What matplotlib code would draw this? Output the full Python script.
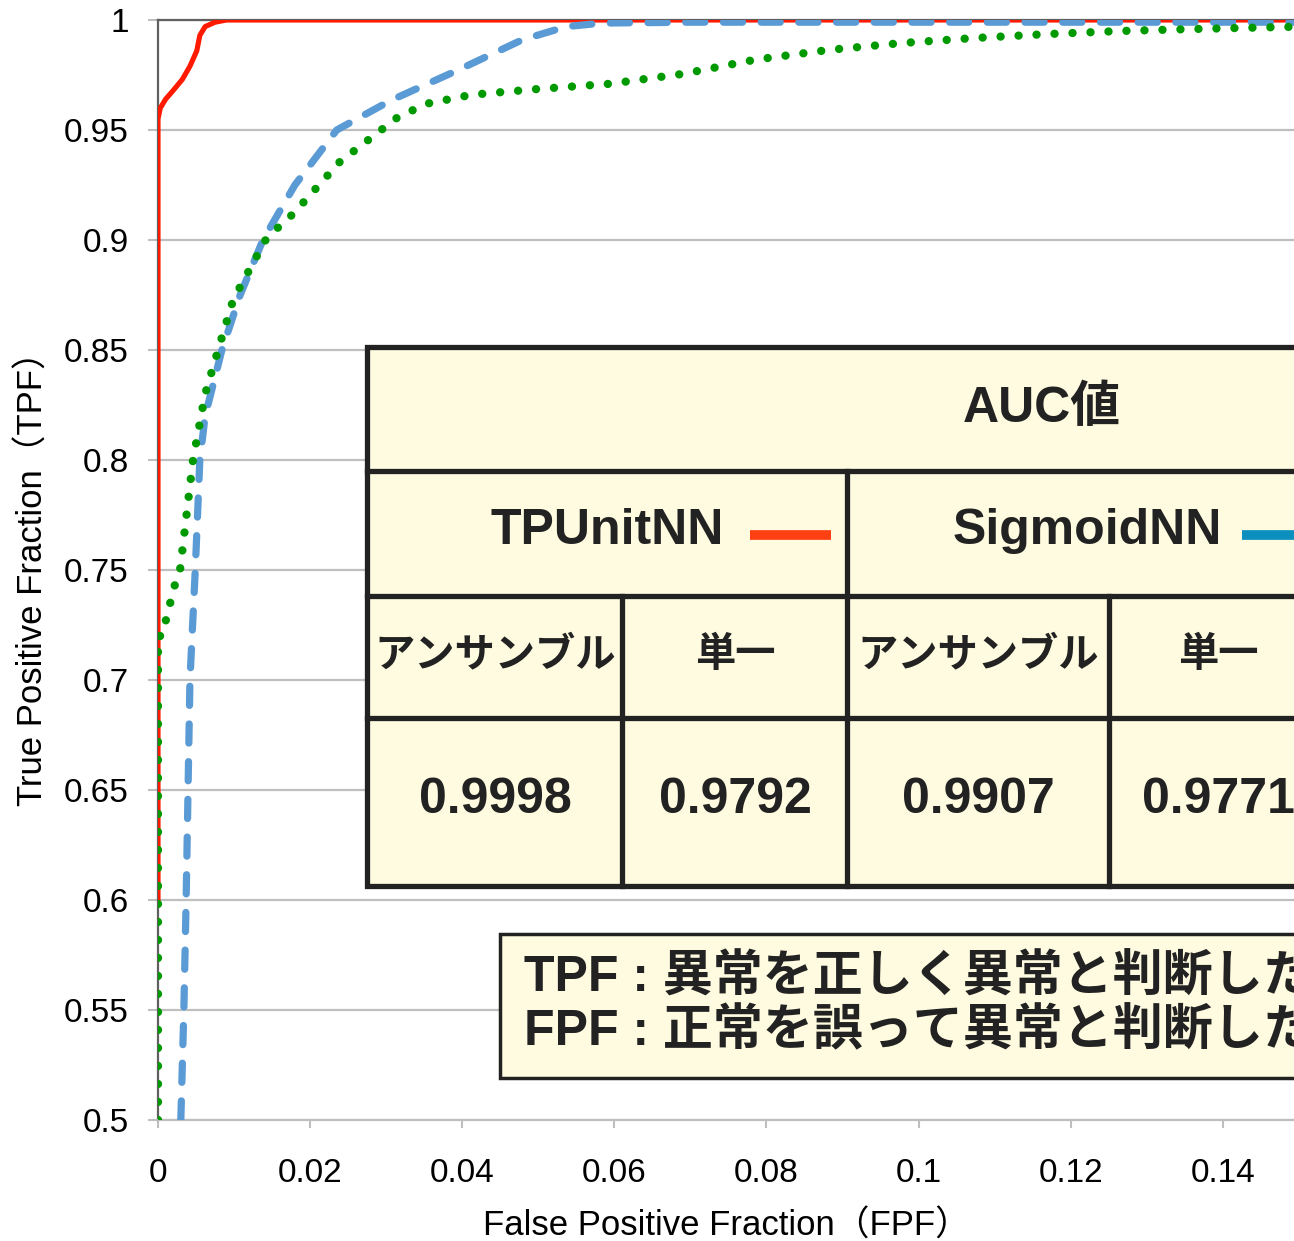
import numpy as np
import matplotlib.pyplot as plt
from matplotlib.patches import Rectangle

# ---- data ----
red_fpf = [0, 0, 0, 0.0003, 0.001, 0.002, 0.0032, 0.0042, 0.0051, 0.0055, 0.0062, 0.0075, 0.009, 0.02, 0.15]
red_tpf = [0.6, 0.9, 0.955, 0.960, 0.964, 0.968, 0.973, 0.979, 0.986, 0.993, 0.997, 0.999, 1.0, 1.0, 1.0]

blue_fpf = [0.0030, 0.0034, 0.0037, 0.0042, 0.0049, 0.0055, 0.0062, 0.0084, 0.0108, 0.0138, 0.018,
            0.0235, 0.0307, 0.0393, 0.0479, 0.0537, 0.0584, 0.07, 0.10, 0.15]
blue_tpf = [0.5, 0.55, 0.6, 0.7, 0.75, 0.8, 0.82, 0.85, 0.875, 0.9, 0.925,
            0.95, 0.9636, 0.977, 0.991, 0.997, 0.9986, 0.999, 0.999, 0.999]

green_fpf = [0, 0, 0.0005, 0.0011, 0.0016, 0.0022, 0.0029, 0.0046, 0.0062, 0.0079, 0.0099, 0.0143,
             0.0178, 0.0239, 0.0316, 0.0354, 0.0412, 0.0498, 0.0594, 0.069, 0.0786, 0.0882,
             0.0977, 0.1073, 0.1169, 0.1265, 0.1361, 0.1477, 0.16]
green_tpf = [0.5, 0.72, 0.72, 0.728, 0.735, 0.743, 0.75, 0.8, 0.83, 0.85, 0.873, 0.901,
             0.912, 0.9355, 0.956, 0.962, 0.966, 0.9686, 0.971, 0.9755, 0.982, 0.9864,
             0.9895, 0.9918, 0.9936, 0.995, 0.9959, 0.9968, 0.9975]

yticks = [0.5, 0.55, 0.6, 0.65, 0.7, 0.75, 0.8, 0.85, 0.9, 0.95, 1.0]
ytick_labels = ["0.5", "0.55", "0.6", "0.65", "0.7", "0.75", "0.8", "0.85", "0.9", "0.95", "1"]
xticks = [0, 0.02, 0.04, 0.06, 0.08, 0.1, 0.12, 0.14]
xtick_labels = ["0", "0.02", "0.04", "0.06", "0.08", "0.1", "0.12", "0.14"]

groups = ["TPUnitNN", "SigmoidNN"]
group_colors = ["#ff4013", "#0a8fbf"]
sub_cols = ["アンサンブル", "単一", "アンサンブル", "単一"]
auc_values = [0.9998, 0.9792, 0.9907, 0.9771]
note_lines = ["TPF : 異常を正しく異常と判断した割合", "FPF : 正常を誤って異常と判断した割合"]

FONT = ["Liberation Sans", "Noto Sans CJK JP"]
W, H = 1294, 1241

fig = plt.figure(figsize=(W / 100, H / 100), dpi=100)
ax = fig.add_axes([158 / W, 1 - 1120 / H, 1 - 158 / W, (1120 - 20) / H])

ax.plot(red_fpf, red_tpf, color="#ff1a00", lw=3.7, solid_capstyle="round", zorder=3)
ax.plot(blue_fpf, blue_tpf, color="#5b9bd5", lw=5.2, linestyle=(0, (2.65, 2.57)),
        dash_capstyle="round", zorder=4)
ax.plot(green_fpf, green_tpf, color="#009a00", lw=6, linestyle=(0, (0.01, 2.15)),
        dash_capstyle="round", zorder=5)

ax.set_xlim(0, (W - 158) / 7605)
ax.set_ylim(0.5, 1.0)
ax.set_yticks(yticks)
ax.set_yticklabels(ytick_labels, family=FONT, fontsize=24)
ax.set_xticks(xticks)
ax.set_xticklabels(xtick_labels, family=FONT, fontsize=24)
ax.tick_params(axis="y", length=7, width=1.5, color="#bfbfbf", pad=14)
ax.tick_params(axis="x", length=6, width=1.5, color="#bfbfbf", pad=21)
ax.grid(axis="y", color="#bfbfbf", lw=1.6)
ax.set_axisbelow(True)
ax.spines["right"].set_visible(False)
ax.spines["left"].set_color("#606060")
ax.spines["left"].set_linewidth(1.6)
ax.spines["top"].set_color("#606060")
ax.spines["top"].set_linewidth(1.6)
ax.spines["bottom"].set_color("#bfbfbf")
ax.spines["bottom"].set_linewidth(1.6)

ax.set_xlabel("False Positive Fraction（FPF）", family=FONT, fontsize=25, labelpad=15)
ax.set_ylabel("True Positive Fraction（TPF）", family=FONT, fontsize=25, labelpad=10)

# ---- overlay in pixel coords for the table and note ----
ov = fig.add_axes([0, 0, 1, 1])
ov.set_xlim(0, W)
ov.set_ylim(H, 0)
ov.axis("off")
ov.patch.set_alpha(0)

cream = "#fffbe0"
edge = "#222222"
tl = 367
rows = [347, 471, 596, 718, 886]
ov.add_patch(Rectangle((tl, rows[0]), 1400, rows[-1] - rows[0], facecolor=cream,
                       edgecolor=edge, lw=3.8, zorder=6))
for r in rows[1:-1]:
    ov.plot([tl, tl + 1400], [r, r], color=edge, lw=3.8, zorder=7)
ov.plot([847, 847], [rows[1], rows[-1]], color=edge, lw=3.8, zorder=7)
ov.plot([1327, 1327], [rows[1], rows[-1]], color=edge, lw=3.8, zorder=7)
for cx in [622, 1109]:
    ov.plot([cx, cx], [rows[2], rows[-1]], color=edge, lw=3.8, zorder=7)

ov.text(1042, 409, "AUC値", family=FONT, fontsize=36, fontweight="bold",
        ha="center", va="center", color="#222222", zorder=8)

group_text_x = [607, 1087]
swatch_x = [750, 1242]
for g, c, tx, sx in zip(groups, group_colors, group_text_x, swatch_x):
    ov.text(tx, 531, g, family=FONT, fontsize=36, fontweight="bold",
            ha="center", va="center", color="#222222", zorder=8)
    ov.plot([sx, sx + 81], [535, 535], color=c, lw=7, solid_capstyle="butt", zorder=8)

col_centers = [495, 735, 978, 1218]
for cxx, lab, v in zip(col_centers, sub_cols, auc_values):
    ov.text(cxx, 655, lab, family=FONT, fontsize=29, fontweight="bold",
            ha="center", va="center", color="#222222", zorder=8)
    ov.text(cxx, 800, f"{v:.4f}", family=FONT, fontsize=36, fontweight="bold",
            ha="center", va="center", color="#222222", zorder=8)

ov.add_patch(Rectangle((500, 934), 900, 1078 - 934, facecolor=cream,
                       edgecolor=edge, lw=2.5, zorder=6))
for i, line in enumerate(note_lines):
    ov.text(524, 978 + i * 54, line, family=FONT, fontsize=36, fontweight="bold",
            ha="left", va="center", color="#222222", zorder=8)

fig.savefig("out.png", dpi=100)
